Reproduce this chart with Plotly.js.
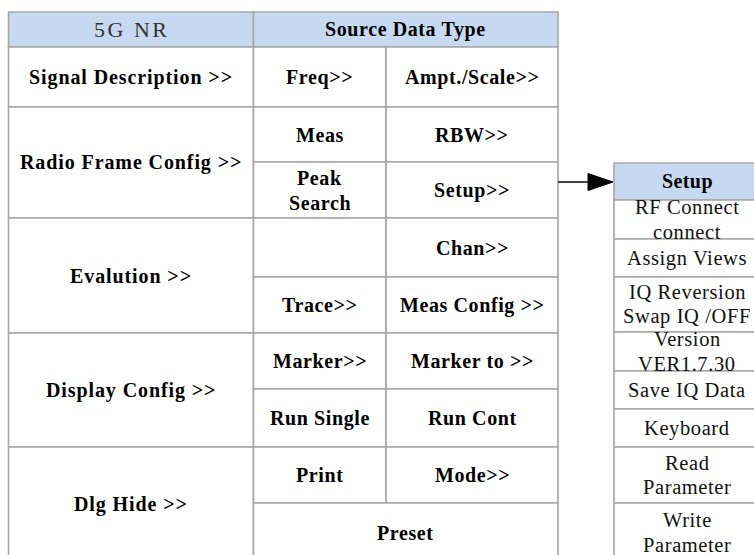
<!DOCTYPE html>
<html><head><meta charset="utf-8">
<script src="https://cdn.plot.ly/plotly-3.0.1.min.js"></script>
<style>html,body{margin:0;padding:0;background:#fff;overflow:hidden}#chart{width:754px;height:555px}</style>
</head><body><div id="chart"></div>
<script>
// ---- data (labels) ----
const headerLabels = ['5G NR', 'Source Data Type'];
const menuLabels = ['Signal Description >>', 'Radio Frame Config >>', 'Evalution >>', 'Display Config >>', 'Dlg Hide >>'];
const menuSpans = [1, 2, 2, 2, 2];
const subLeft = ['Freq>>', 'Meas', 'Peak<br>Search', '', 'Trace>>', 'Marker>>', 'Run Single', 'Print', 'Preset'];
const subRight = ['Ampt./Scale>>', 'RBW>>', 'Setup>>', 'Chan>>', 'Meas Config >>', 'Marker to >>', 'Run Cont', 'Mode>>', null];
const setupTitle = 'Setup';
const setupItems = ['RF Connect<br>connect', 'Assign Views', 'IQ Reversion<br>Swap IQ /OFF', 'Version<br>VER1.7.30', 'Save IQ Data', 'Keyboard', 'Read<br>Parameter', 'Write<br>Parameter'];
const arrowFromRow = 2; // Setup>> row points to the Setup menu

// ---- geometry / style ----
const W = 754, H = 555, CLIP = 562;
const colX = [8.5, 253.5, 386, 558];
const rowY = [12, 47, 107, 162, 218, 277, 333, 389, 447, 503, 570];
const setX = [614, 760];
const setY = [163, 200, 239, 277, 332, 371, 409, 447, 503, 570];
const BORDER = '#a6a6a6', HEAD = '#c6d9f0';
const FONT = 'Liberation Serif, DejaVu Serif, serif';

const shapes = [], ann = [];
function cell(x0, x1, y0, y1, fill) {
  shapes.push({type: 'rect', xref: 'x', yref: 'y', x0, x1, y0, y1,
    fillcolor: fill || '#ffffff', line: {color: BORDER, width: 1.6}, layer: 'below'});
}
function label(x, y, text, opts) {
  opts = opts || {};
  const ls = opts.ls !== undefined ? opts.ls : 0.6;
  const gap = opts.gap || 25;
  const lines = text.split('<br>');
  lines.forEach((t, k) => {
    const inner = opts.bold === false ? t : '<b>' + t + '</b>';
    ann.push({xref: 'x', yref: 'y', x, y: y + (k - (lines.length - 1) / 2) * gap,
      text: `<span style="letter-spacing:${ls}px">${inner}</span>`,
      showarrow: false, xanchor: 'center', yanchor: 'middle',
      font: {family: FONT, size: opts.size || 20, color: opts.color || '#000'}});
  });
}

// header
cell(colX[0], colX[1], rowY[0], rowY[1], HEAD);
cell(colX[1], colX[3], rowY[0], rowY[1], HEAD);
label((colX[0] + colX[1]) / 2, (rowY[0] + rowY[1]) / 2, headerLabels[0], {bold: false, size: 22, color: '#333', ls: 2.5});
label((colX[1] + colX[3]) / 2, (rowY[0] + rowY[1]) / 2, headerLabels[1]);

// left menu column
let r = 1;
menuLabels.forEach((m, i) => {
  const y0 = rowY[r], y1 = rowY[r + menuSpans[i]];
  cell(colX[0], colX[1], y0, y1);
  label((colX[0] + colX[1]) / 2, (y0 + Math.min(y1, CLIP)) / 2, m, {ls: 0.9});
  r += menuSpans[i];
});

// sub columns
subLeft.forEach((s, i) => {
  const y0 = rowY[i + 1], y1 = rowY[i + 2];
  const yc = (y0 + Math.min(y1, CLIP)) / 2;
  if (subRight[i] === null) {
    cell(colX[1], colX[3], y0, y1);
    label((colX[1] + colX[3]) / 2, yc, s);
  } else {
    cell(colX[1], colX[2], y0, y1);
    cell(colX[2], colX[3], y0, y1);
    if (s) label((colX[1] + colX[2]) / 2, yc, s);
    label((colX[2] + colX[3]) / 2, yc, subRight[i]);
  }
});

// setup submenu
cell(setX[0], setX[1], setY[0], setY[1], HEAD);
label((setX[0] + setX[1]) / 2, (setY[0] + setY[1]) / 2, setupTitle, {ls: 0.4});
setupItems.forEach((s, i) => {
  const y0 = setY[i + 1], y1 = setY[i + 2];
  cell(setX[0], setX[1], y0, y1);
  label((setX[0] + setX[1]) / 2, (y0 + Math.min(y1, CLIP)) / 2, s, {bold: false, size: 20.5, color: '#111', ls: 0.6, gap: 24.5});
});

// arrow from Setup>> to Setup menu
const ay = (rowY[arrowFromRow + 1] + rowY[arrowFromRow + 2]) / 2 - 8;
shapes.push({type: 'line', xref: 'x', yref: 'y', x0: colX[3], x1: setX[0] - 24, y0: ay, y1: ay, line: {color: '#000', width: 1.5}});
shapes.push({type: 'path', xref: 'x', yref: 'y',
  path: `M ${setX[0] - 26} ${ay - 8.5} L ${setX[0] - 1} ${ay} L ${setX[0] - 26} ${ay + 8.5} Z`,
  fillcolor: '#000', line: {color: '#000', width: 1}});

Plotly.newPlot('chart', [], {
  width: W, height: H, margin: {l: 0, r: 0, t: 0, b: 0},
  paper_bgcolor: '#fff', plot_bgcolor: '#fff', showlegend: false,
  xaxis: {range: [0, W], visible: false, fixedrange: true},
  yaxis: {range: [H, 0], visible: false, fixedrange: true},
  shapes, annotations: ann
}, {displayModeBar: false, staticPlot: true});
</script></body></html>
